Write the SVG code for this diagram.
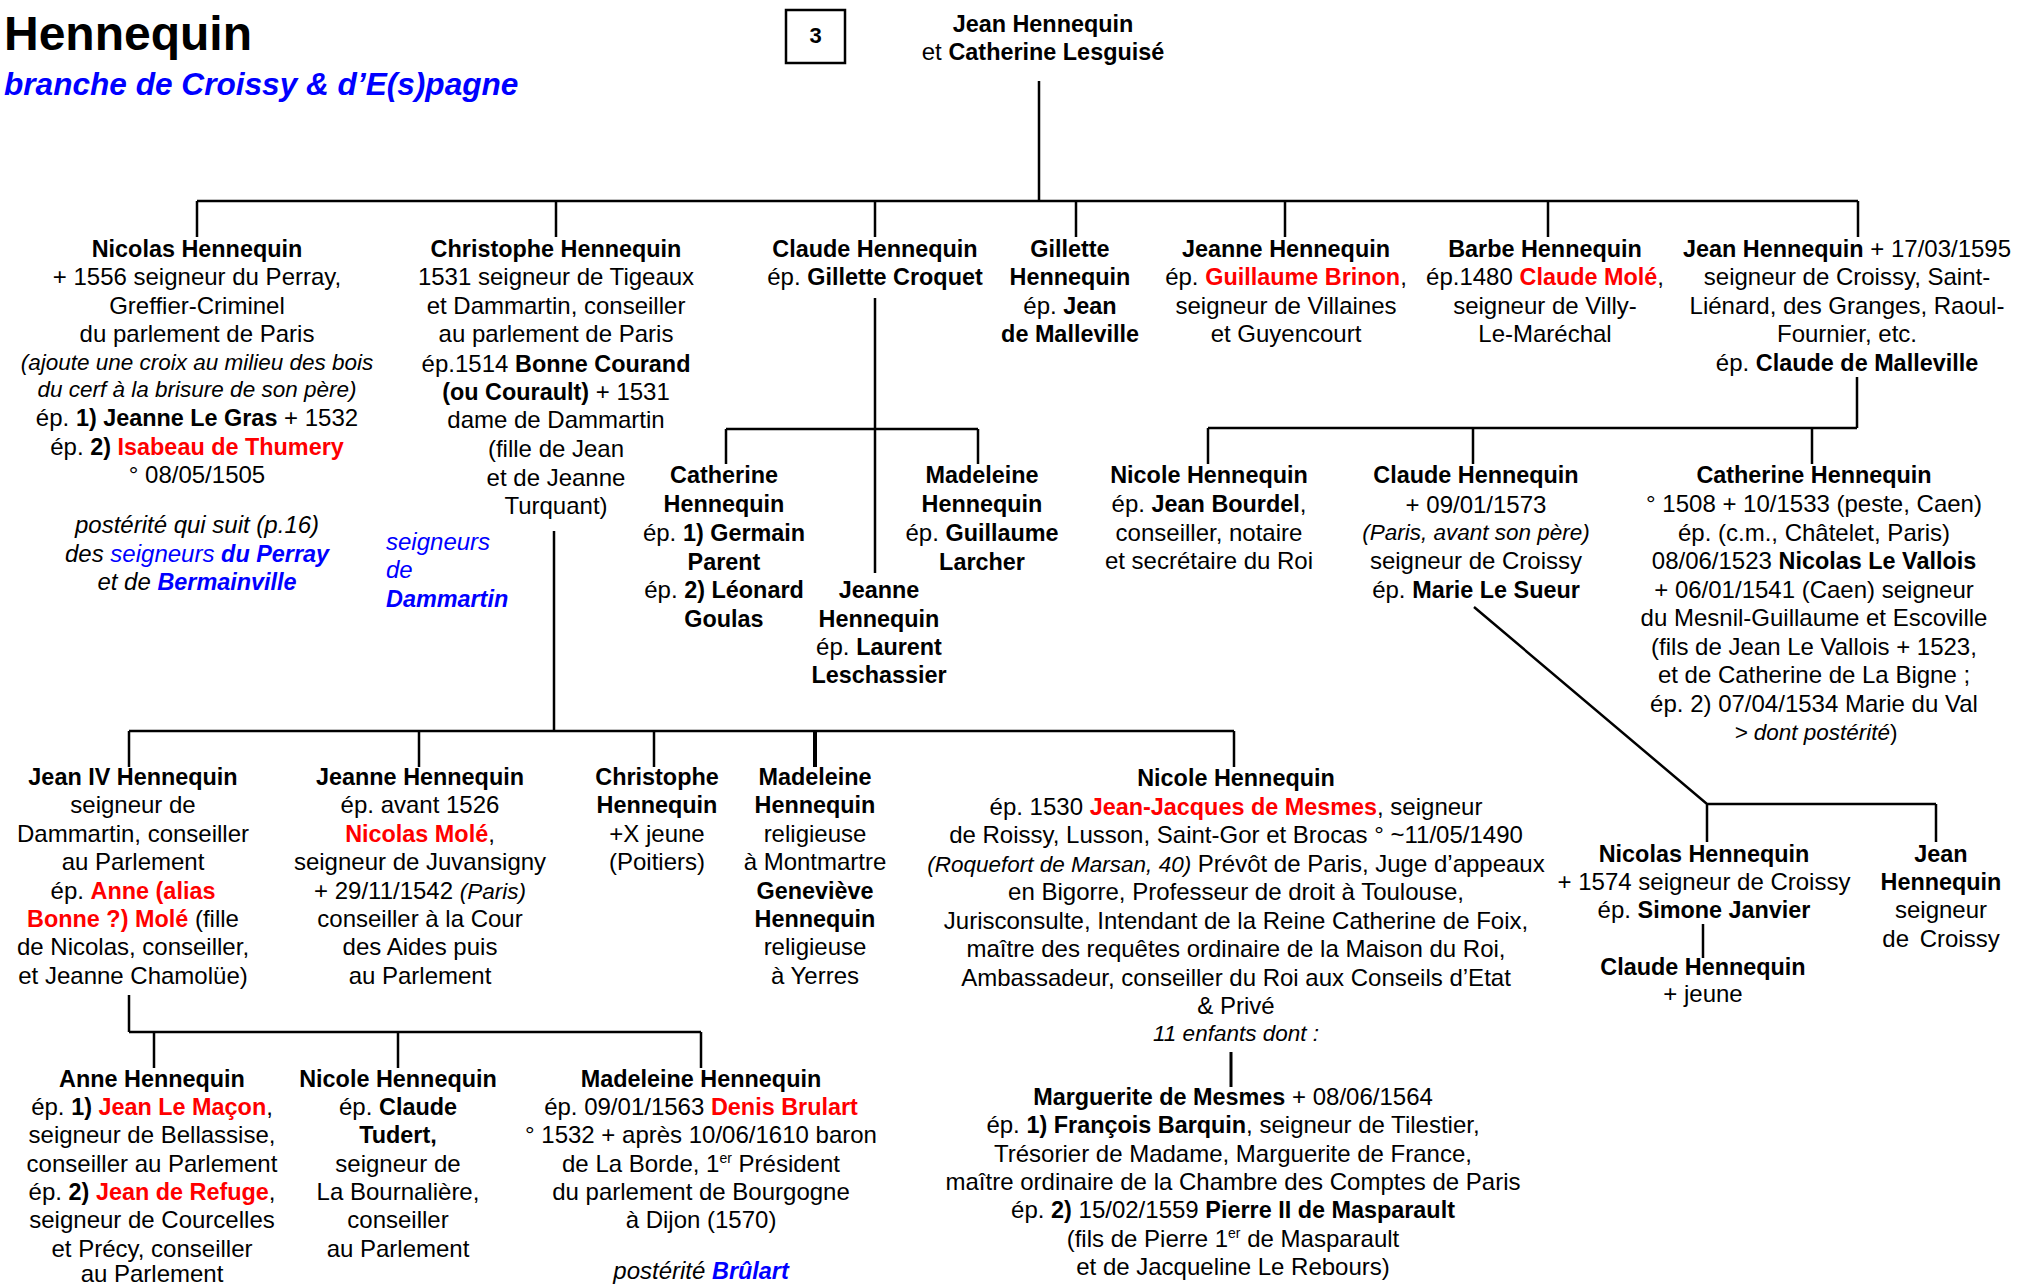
<svg xmlns="http://www.w3.org/2000/svg" width="2017" height="1288" viewBox="0 0 2017 1288">
<style>
text{font-family:"Liberation Sans",Arial,sans-serif;font-size:24px;fill:#000;text-anchor:middle}
.b{font-weight:bold;font-size:23.4px}
.i{font-style:italic}
.s{font-size:22.5px}
.r{fill:#f00}
.bl{fill:#00f}
.sup{font-size:14px}
.c path{stroke:#000;stroke-width:2.5;fill:none}
</style>
<rect width="2017" height="1288" fill="#fff"/>
<g id="title">
<text x="4" y="50" class="b" style="font-size:48px;text-anchor:start">Hennequin</text>
<text x="4" y="95" class="b i bl" style="font-size:31.6px;text-anchor:start">branche de Croissy &amp; d’E(s)pagne</text>
</g>
<g id="page-box">
<rect x="786" y="10" width="59" height="53" fill="none" stroke="#000" stroke-width="2.5"/>
<text x="815.5" y="43" class="b" style="font-size:22px">3</text>
</g>
<g class="c" id="connectors">
<path d="M1039,81V201M197,201H1858M197,201V237M556,201V237M875,201V237M1076,201V237M1285,201V237M1548,201V237M1858,201V237"/>
<path d="M875,298V573M726,429H978M726,429V464M978,429V464"/>
<path d="M1857,377V428M1208,428H1857M1208,428V464M1473,428V464M1812,428V464"/>
<path d="M554,531V731M129,731H1234M129,731V767M419,731V767M654,731V767M1234,731V767"/>
<path d="M815,731V767" style="stroke-width:4"/>
<path d="M129,995V1032M129,1032H701M154,1032V1068M398,1032V1068M701,1032V1068"/>
<path d="M1231,1052V1087" style="stroke-width:3"/>
<path d="M1474,607L1707,804H1936M1707,804V842M1936,804V842"/>
<path d="M1703,924V958"/>
</g>
<g id="n-root">
<text x="1043" y="31.7" class="b">Jean Hennequin</text>
<text x="1043" y="60">et <tspan class="b">Catherine Lesguisé</tspan></text>
</g>
<g id="n-nicolas">
<text x="197" y="257" class="b">Nicolas Hennequin</text>
<text x="197" y="285.4">+ 1556 seigneur du Perray,</text>
<text x="197" y="313.8">Greffier-Criminel</text>
<text x="197" y="342.2">du parlement de Paris</text>
<text x="197" y="369.5" class="i s">(ajoute une croix au milieu des bois</text>
<text x="197" y="397" class="i s">du cerf à la brisure de son père)</text>
<text x="197" y="426">ép. <tspan class="b">1) Jeanne Le Gras</tspan> + 1532</text>
<text x="197" y="454.5">ép. <tspan class="b">2) </tspan><tspan class="b r">Isabeau de Thumery</tspan></text>
<text x="197" y="483">° 08/05/1505</text>
<text x="197" y="533" class="i">postérité qui suit (p.16)</text>
<text x="197" y="561.7" class="i">des <tspan class="bl">seigneurs </tspan><tspan class="bl b">du Perray</tspan></text>
<text x="197" y="590" class="i">et de <tspan class="bl b">Bermainville</tspan></text>
</g>
<g id="n-christophe">
<text x="556" y="257" class="b">Christophe Hennequin</text>
<text x="556" y="285.4">1531 seigneur de Tigeaux</text>
<text x="556" y="313.8">et Dammartin, conseiller</text>
<text x="556" y="342.2">au parlement de Paris</text>
<text x="556" y="372">ép.1514 <tspan class="b">Bonne Courand</tspan></text>
<text x="556" y="400"><tspan class="b">(ou Courault)</tspan>  + 1531</text>
<text x="556" y="428.4">dame de Dammartin</text>
<text x="556" y="457">(fille de Jean</text>
<text x="556" y="485.5">et de Jeanne</text>
<text x="556" y="514">Turquant)</text>
</g>
<g id="n-seigneurs-dammartin">
<text x="386" y="550" class="i bl" style="text-anchor:start">seigneurs</text>
<text x="386" y="578" class="i bl" style="text-anchor:start">de</text>
<text x="386" y="607" class="i b bl" style="text-anchor:start">Dammartin</text>
</g>
<g id="n-claude">
<text x="875" y="257" class="b">Claude Hennequin</text>
<text x="875" y="285.4">ép. <tspan class="b">Gillette Croquet</tspan></text>
</g>
<g id="n-gillette">
<text x="1070" y="257" class="b">Gillette</text>
<text x="1070" y="285.4" class="b">Hennequin</text>
<text x="1070" y="313.8">ép. <tspan class="b">Jean</tspan></text>
<text x="1070" y="342.2" class="b">de Malleville</text>
</g>
<g id="n-jeanne">
<text x="1286" y="257" class="b">Jeanne Hennequin</text>
<text x="1286" y="285.4">ép. <tspan class="b r">Guillaume Brinon</tspan>,</text>
<text x="1286" y="313.8">seigneur de Villaines</text>
<text x="1286" y="342.2">et Guyencourt</text>
</g>
<g id="n-barbe">
<text x="1545" y="257" class="b">Barbe Hennequin</text>
<text x="1545" y="285.4">ép.1480 <tspan class="b r">Claude Molé</tspan>,</text>
<text x="1545" y="313.8">seigneur de Villy-</text>
<text x="1545" y="342.2">Le-Maréchal</text>
</g>
<g id="n-jean">
<text x="1847" y="257"><tspan class="b">Jean Hennequin</tspan> + 17/03/1595</text>
<text x="1847" y="285.4">seigneur de Croissy, Saint-</text>
<text x="1847" y="313.8">Liénard, des Granges, Raoul-</text>
<text x="1847" y="342.2">Fournier, etc.</text>
<text x="1847" y="370.6">ép. <tspan class="b">Claude de Malleville</tspan></text>
</g>
<g id="n-catherine-a">
<text x="724" y="483.3" class="b">Catherine</text>
<text x="724" y="512" class="b">Hennequin</text>
<text x="724" y="540.8">ép. <tspan class="b">1) Germain</tspan></text>
<text x="724" y="569.5" class="b">Parent</text>
<text x="724" y="598.3">ép. <tspan class="b">2) Léonard</tspan></text>
<text x="724" y="626.7" class="b">Goulas</text>
</g>
<g id="n-jeanne-b">
<text x="879" y="598.3" class="b">Jeanne</text>
<text x="879" y="626.7" class="b">Hennequin</text>
<text x="879" y="655" >ép. <tspan class="b">Laurent</tspan></text>
<text x="879" y="683.3" class="b">Leschassier</text>
</g>
<g id="n-madeleine-a">
<text x="982" y="483.3" class="b">Madeleine</text>
<text x="982" y="512" class="b">Hennequin</text>
<text x="982" y="540.8">ép. <tspan class="b">Guillaume</tspan></text>
<text x="982" y="569.5" class="b">Larcher</text>
</g>
<g id="n-nicole-a">
<text x="1209" y="483.3" class="b">Nicole Hennequin</text>
<text x="1209" y="512">ép. <tspan class="b">Jean Bourdel</tspan>,</text>
<text x="1209" y="540.5">conseiller, notaire</text>
<text x="1209" y="569">et secrétaire du Roi</text>
</g>
<g id="n-claude-b">
<text x="1476" y="483.3" class="b">Claude Hennequin</text>
<text x="1476" y="513">+ 09/01/1573</text>
<text x="1476" y="540" class="i s">(Paris, avant son père)</text>
<text x="1476" y="569">seigneur de Croissy</text>
<text x="1476" y="597.5">ép. <tspan class="b">Marie Le Sueur</tspan></text>
</g>
<g id="n-catherine-b">
<text x="1814" y="483.3" class="b">Catherine Hennequin</text>
<text x="1814" y="512">° 1508 + 10/1533 (peste, Caen)</text>
<text x="1814" y="540.5">ép. (c.m., Châtelet, Paris)</text>
<text x="1814" y="569">08/06/1523 <tspan class="b">Nicolas Le Vallois</tspan></text>
<text x="1814" y="597.5">+ 06/01/1541 (Caen) seigneur</text>
<text x="1814" y="626">du Mesnil-Guillaume et Escoville</text>
<text x="1814" y="654.5">(fils de Jean Le Vallois + 1523,</text>
<text x="1814" y="683">et de Catherine de La Bigne ;</text>
<text x="1814" y="711.5">ép. 2) 07/04/1534 Marie du Val</text>
<text x="1816" y="740"><tspan class="i s">&gt; dont postérité</tspan><tspan class="s">)</tspan></text>
</g>
<g id="n-jean-iv">
<text x="133" y="785" class="b">Jean IV Hennequin</text>
<text x="133" y="813.4">seigneur de</text>
<text x="133" y="841.8">Dammartin, conseiller</text>
<text x="133" y="870.2">au Parlement</text>
<text x="133" y="898.6">ép. <tspan class="b r">Anne (alias</tspan></text>
<text x="133" y="927"><tspan class="b r">Bonne ?) Molé</tspan> (fille</text>
<text x="133" y="955.4">de Nicolas, conseiller,</text>
<text x="133" y="983.8">et Jeanne Chamolüe)</text>
</g>
<g id="n-jeanne-c">
<text x="420" y="785" class="b">Jeanne Hennequin</text>
<text x="420" y="813.4">ép. avant 1526</text>
<text x="420" y="841.8"><tspan class="b r">Nicolas Molé</tspan>,</text>
<text x="420" y="870.2">seigneur de Juvansigny</text>
<text x="420" y="898.6">+ 29/11/1542 <tspan class="i s">(Paris)</tspan></text>
<text x="420" y="927">conseiller à la Cour</text>
<text x="420" y="955.4">des Aides puis</text>
<text x="420" y="983.8">au Parlement</text>
</g>
<g id="n-christophe-b">
<text x="657" y="785" class="b">Christophe</text>
<text x="657" y="813.4" class="b">Hennequin</text>
<text x="657" y="841.8">+X jeune</text>
<text x="657" y="870.2">(Poitiers)</text>
</g>
<g id="n-madeleine-b">
<text x="815" y="785" class="b">Madeleine</text>
<text x="815" y="813.4" class="b">Hennequin</text>
<text x="815" y="841.8">religieuse</text>
<text x="815" y="870.2">à Montmartre</text>
<text x="815" y="898.6" class="b">Geneviève</text>
<text x="815" y="927" class="b">Hennequin</text>
<text x="815" y="955.4">religieuse</text>
<text x="815" y="983.8">à Yerres</text>
</g>
<g id="n-nicole-b">
<text x="1236" y="786" class="b">Nicole Hennequin</text>
<text x="1236" y="814.5">ép. 1530 <tspan class="b r">Jean-Jacques de Mesmes</tspan>, seigneur</text>
<text x="1236" y="843">de Roissy, Lusson, Saint-Gor et Brocas ° ~11/05/1490</text>
<text x="1236" y="871.5"><tspan class="i s">(Roquefort de Marsan, 40)</tspan> Prévôt de Paris, Juge d’appeaux</text>
<text x="1236" y="900">en Bigorre, Professeur de droit à Toulouse,</text>
<text x="1236" y="928.5">Jurisconsulte, Intendant de la Reine Catherine de Foix,</text>
<text x="1236" y="957">maître des requêtes ordinaire de la Maison du Roi,</text>
<text x="1236" y="985.5">Ambassadeur, conseiller du Roi aux Conseils d’Etat</text>
<text x="1236" y="1014">&amp; Privé</text>
<text x="1236" y="1041" class="i s">11 enfants dont :</text>
</g>
<g id="n-nicolas-b">
<text x="1704" y="861.7" class="b">Nicolas Hennequin</text>
<text x="1704" y="890">+ 1574 seigneur de Croissy</text>
<text x="1704" y="918.3">ép. <tspan class="b">Simone Janvier</tspan></text>
</g>
<g id="n-claude-c">
<text x="1703" y="975" class="b">Claude Hennequin</text>
<text x="1703" y="1002">+ jeune</text>
</g>
<g id="n-jean-b">
<text x="1941" y="861.7" class="b">Jean</text>
<text x="1941" y="890" class="b">Hennequin</text>
<text x="1941" y="918.3">seigneur</text>
<text x="1941" y="946.7" style="word-spacing:4px">de Croissy</text>
</g>
<g id="n-anne">
<text x="152" y="1086.7" class="b">Anne Hennequin</text>
<text x="152" y="1115">ép. <tspan class="b">1) </tspan><tspan class="b r">Jean Le Maçon</tspan>,</text>
<text x="152" y="1143.3">seigneur de Bellassise,</text>
<text x="152" y="1171.7">conseiller au Parlement</text>
<text x="152" y="1200">ép. <tspan class="b">2) </tspan><tspan class="b r">Jean de Refuge</tspan>,</text>
<text x="152" y="1228.3">seigneur de Courcelles</text>
<text x="152" y="1256.7">et Précy, conseiller</text>
<text x="152" y="1282">au Parlement</text>
</g>
<g id="n-nicole-c">
<text x="398" y="1086.7" class="b">Nicole Hennequin</text>
<text x="398" y="1115">ép. <tspan class="b">Claude</tspan></text>
<text x="398" y="1143.3" class="b">Tudert,</text>
<text x="398" y="1171.7">seigneur de</text>
<text x="398" y="1200">La Bournalière,</text>
<text x="398" y="1228.3">conseiller</text>
<text x="398" y="1256.7">au Parlement</text>
</g>
<g id="n-madeleine-c">
<text x="701" y="1086.7" class="b">Madeleine Hennequin</text>
<text x="701" y="1115">ép. 09/01/1563 <tspan class="b r">Denis Brulart</tspan></text>
<text x="701" y="1143.3">° 1532 + après 10/06/1610 baron</text>
<text x="701" y="1171.7">de La Borde, 1<tspan class="sup" dy="-9">er</tspan><tspan dy="9"> Président</tspan></text>
<text x="701" y="1200">du parlement de Bourgogne</text>
<text x="701" y="1228.3">à Dijon (1570)</text>
<text x="701" y="1279" class="i">postérité <tspan class="b bl">Brûlart</tspan></text>
</g>
<g id="n-marguerite">
<text x="1233" y="1105"><tspan class="b">Marguerite de Mesmes</tspan> + 08/06/1564</text>
<text x="1233" y="1133.3">ép. <tspan class="b">1) François Barquin</tspan>, seigneur de Tilestier,</text>
<text x="1233" y="1161.7">Trésorier de Madame, Marguerite de France,</text>
<text x="1233" y="1190">maître ordinaire de la Chambre des Comptes de Paris</text>
<text x="1233" y="1218.3">ép. <tspan class="b">2)</tspan> 15/02/1559 <tspan class="b">Pierre II de Masparault</tspan></text>
<text x="1233" y="1246.7">(fils de Pierre 1<tspan class="sup" dy="-9">er</tspan><tspan dy="9"> de Masparault</tspan></text>
<text x="1233" y="1275">et de Jacqueline Le Rebours)</text>
</g>
</svg>
